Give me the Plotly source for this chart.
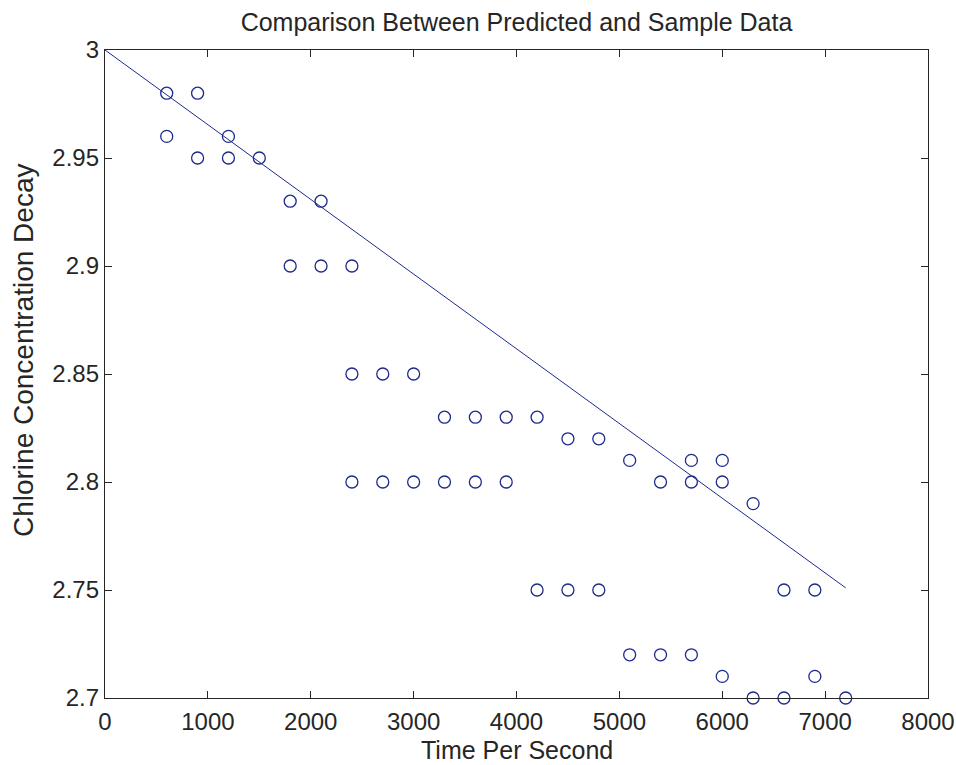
import plotly.graph_objects as go

# sample data (time in seconds, chlorine concentration)
sample_t = [600, 600, 900, 900, 1200, 1200, 1500,
            1800, 1800, 2100, 2100,
            2400, 2400, 2400, 2700, 2700, 3000, 3000,
            3300, 3300, 3600, 3600, 3900, 3900,
            4200, 4200, 4500, 4500, 4800, 4800,
            5100, 5100, 5400, 5400,
            5700, 5700, 5700, 6000, 6000, 6000,
            6300, 6300, 6600, 6600, 6900, 6900, 7200]
sample_c = [2.98, 2.96, 2.98, 2.95, 2.96, 2.95, 2.95,
            2.93, 2.90, 2.93, 2.90,
            2.90, 2.85, 2.80, 2.85, 2.80, 2.85, 2.80,
            2.83, 2.80, 2.83, 2.80, 2.83, 2.80,
            2.83, 2.75, 2.82, 2.75, 2.82, 2.75,
            2.81, 2.72, 2.80, 2.72,
            2.81, 2.80, 2.72, 2.81, 2.80, 2.71,
            2.79, 2.70, 2.75, 2.70, 2.75, 2.71, 2.70]

# predicted curve
pred_t = [0, 7200]
pred_c = [3.0, 2.751]

x_ticks = [0, 1000, 2000, 3000, 4000, 5000, 6000, 7000, 8000]
y_ticks = [2.7, 2.75, 2.8, 2.85, 2.9, 2.95, 3.0]
y_labels = ['2.7', '2.75', '2.8', '2.85', '2.9', '2.95', '3']

blue = '#1c2a8c'
ink = '#262626'
font = 'Arial, Liberation Sans, sans-serif'

fig = go.Figure()
fig.add_trace(go.Scatter(
    x=sample_t, y=sample_c, mode='markers', name='sample',
    marker=dict(symbol='circle-open', size=12, color=blue,
                line=dict(width=1.3, color=blue)),
    cliponaxis=False))
fig.add_trace(go.Scatter(
    x=pred_t, y=pred_c, mode='lines', name='predicted',
    line=dict(color=blue, width=1)))

axis_common = dict(
    showgrid=False, zeroline=False, showline=True, linecolor=ink,
    linewidth=1.3, mirror='ticks', ticks='inside', ticklen=7,
    tickcolor=ink, tickwidth=1.3, ticklabeloverflow='allow',
    automargin=False,
    tickfont=dict(family=font, size=24, color=ink))

fig.update_xaxes(
    range=[0, 8000], tickvals=x_ticks, ticktext=[str(v) for v in x_ticks],
    ticklabelstandoff=2, **axis_common)
fig.update_yaxes(
    range=[2.7, 3.0], tickvals=y_ticks, ticktext=y_labels,
    **axis_common)

# axis labels placed by hand (the y label sits a bit above centre in the original)
fig.add_annotation(
    text='Chlorine Concentration Decay', textangle=-90,
    xref='paper', yref='paper', x=-0.0996, y=0.537,
    xanchor='center', yanchor='middle', showarrow=False,
    font=dict(family=font, size=28, color=ink))
fig.add_annotation(
    text='Time Per Second',
    xref='paper', yref='paper', x=0.5, y=-0.081,
    xanchor='center', yanchor='middle', showarrow=False,
    font=dict(family=font, size=25, color=ink))

fig.update_layout(
    width=956, height=765,
    margin=dict(l=105, r=28, t=50, b=67),
    paper_bgcolor='white', plot_bgcolor='white',
    showlegend=False,
    title=dict(text='Comparison Between Predicted and Sample Data',
               xref='paper', x=0.5, xanchor='center',
               y=0.971, yanchor='middle',
               font=dict(family=font, size=25, color=ink)))

# drop the default body margin so the figure fills the window
fig.write_html('out.html', config={'displayModeBar': False},
               post_script="document.body.style.margin='0';")
